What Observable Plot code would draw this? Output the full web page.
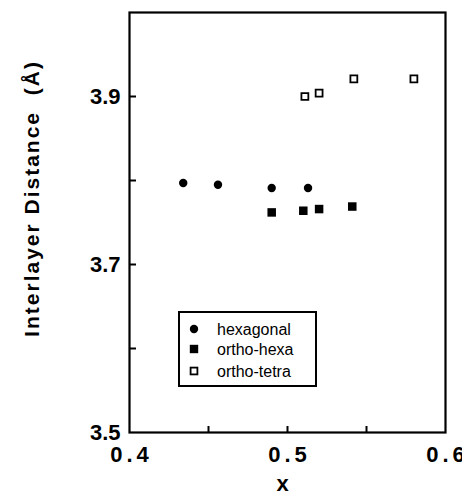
<!DOCTYPE html>
<html>
<head>
<meta charset="utf-8">
<script src="https://cdn.jsdelivr.net/npm/d3@7"></script>
<script src="https://cdn.jsdelivr.net/npm/@observablehq/plot@0.6"></script>
<style>
  html, body { margin: 0; padding: 0; background: #fff; }
  #chart { position: relative; width: 462px; height: 500px; }
  #chart > svg { overflow: visible; }
  #legend { position: absolute; left: 178px; top: 311px; }
</style>
</head>
<body>
<div id="chart"></div>
<script>
// ---- data ----
const hexX = [0.434, 0.456, 0.490, 0.513];
const hexY = [3.797, 3.795, 3.791, 3.791];
const ohX  = [0.490, 0.510, 0.520, 0.541];
const ohY  = [3.762, 3.764, 3.766, 3.769];
const otX  = [0.511, 0.520, 0.542, 0.580];
const otY  = [3.900, 3.904, 3.921, 3.921];
const seriesNames = ["hexagonal", "ortho-hexa", "ortho-tetra"];
const xLabelTicks = [0.4, 0.5, 0.6];
const xMinorTicks = [0.45, 0.5, 0.55];
const yLabelTicks = [3.5, 3.7, 3.9];
const yMinorTicks = [3.6, 3.7, 3.8, 3.9];
const xTitle = "x";
const yTitle = "Interlayer Distance\u00a0\u00a0(\u00c5)";

const toRows = (xs, ys) => xs.map((x, i) => ({x, y: ys[i]}));
const hex = toRows(hexX, hexY);
const oh = toRows(ohX, ohY);
const ot = toRows(otX, otY);

const font = "'Liberation Sans', Arial, Helvetica, sans-serif";
const W = 462, H = 500, mL = 129, mR = 17, mT = 12, mB = 68;
const plotW = W - mL - mR, plotH = H - mT - mB;

const plot = Plot.plot({
  width: W, height: H,
  marginLeft: mL, marginRight: mR, marginTop: mT, marginBottom: mB,
  style: {fontFamily: font, background: "#fff", color: "#000", overflow: "visible"},
  x: {domain: [0.4, 0.6]},
  y: {domain: [3.5, 4.0]},
  marks: [
    Plot.axisX({ticks: xLabelTicks, tickSize: 0, tickPadding: 14, tickFormat: d3.format(".1f"),
      fontSize: 22, fontWeight: "bold", label: null}),
    Plot.axisY({ticks: yLabelTicks, tickSize: 0, tickPadding: 9, tickFormat: d3.format(".1f"),
      fontSize: 22, fontWeight: "bold", label: null}),
    Plot.tickY(yMinorTicks, {y: d => d, stroke: "#000", strokeWidth: 2, insetRight: plotW - 7}),
    Plot.tickX(xMinorTicks, {x: d => d, stroke: "#000", strokeWidth: 2, insetTop: plotH - 6}),
    Plot.frame({stroke: "#000", strokeWidth: 2.2}),
    Plot.dot(hex, {x: "x", y: "y", symbol: "circle", r: 4.2, fill: "#000", stroke: "none"}),
    Plot.dot(oh, {x: "x", y: "y", symbol: "square", r: 4.8, fill: "#000", stroke: "none"}),
    Plot.dot(ot, {x: "x", y: "y", symbol: "square", r: 3.9, fill: "#fff", stroke: "#000", strokeWidth: 1.8}),
    Plot.text([yTitle], {frameAnchor: "left", textAnchor: "middle", lineAnchor: "middle", rotate: -90,
      dx: -97, dy: -24, fontSize: 21, fontWeight: "bold", fill: "#000"}),
    Plot.text([xTitle], {frameAnchor: "bottom", textAnchor: "middle", dx: -5, dy: 58, fontSize: 22,
      fontWeight: "bold", fill: "#000"})
  ]
});

const sel = d3.select(plot);
sel.selectAll('g[aria-label="x-axis tick label"]')
  .attr("font-size", 22).style("font-size", "22px").attr("font-weight", "bold");
sel.selectAll('g[aria-label="y-axis tick label"]')
  .attr("font-size", 22).style("font-size", "22px").attr("font-weight", "bold");
// widen the spacing between characters of the x tick labels (no trailing gap)
sel.selectAll('g[aria-label="x-axis tick label"] text')
  .attr("dx", function() {
    return Array.from(this.textContent, (c, i) => (i === 0 ? 0 : 4)).join(" ");
  });
sel.selectAll('g[aria-label="text"] text')
  .filter(function() { return this.textContent === yTitle; })
  .style("letter-spacing", "2px");

const chart = document.getElementById("chart");
chart.appendChild(plot);

// ---- legend (HTML overlay, inside the plot frame) ----
const leg = d3.select(chart).append("div").attr("id", "legend")
  .append("svg").attr("width", 139).attr("height", 76)
  .style("font-family", font);
leg.append("rect").attr("x", 1).attr("y", 1).attr("width", 137).attr("height", 74)
  .attr("fill", "#fff").attr("stroke", "#000").attr("stroke-width", 2);
const rowsY = [18, 38, 60];
const symbols = [
  g => g.append("circle").attr("r", 4.2).attr("fill", "#000"),
  g => g.append("rect").attr("x", -4.2).attr("y", -4.2).attr("width", 8.4).attr("height", 8.4).attr("fill", "#000"),
  g => g.append("rect").attr("x", -3.4).attr("y", -3.4).attr("width", 6.8).attr("height", 6.8)
        .attr("fill", "#fff").attr("stroke", "#000").attr("stroke-width", 1.8)
];
seriesNames.forEach((name, i) => {
  const g = leg.append("g").attr("transform", `translate(16,${rowsY[i]})`);
  symbols[i](g);
  leg.append("text").attr("x", 39).attr("y", rowsY[i]).attr("dy", "0.35em")
    .attr("font-size", 16).attr("fill", "#000").text(name);
});
</script>
</body>
</html>
